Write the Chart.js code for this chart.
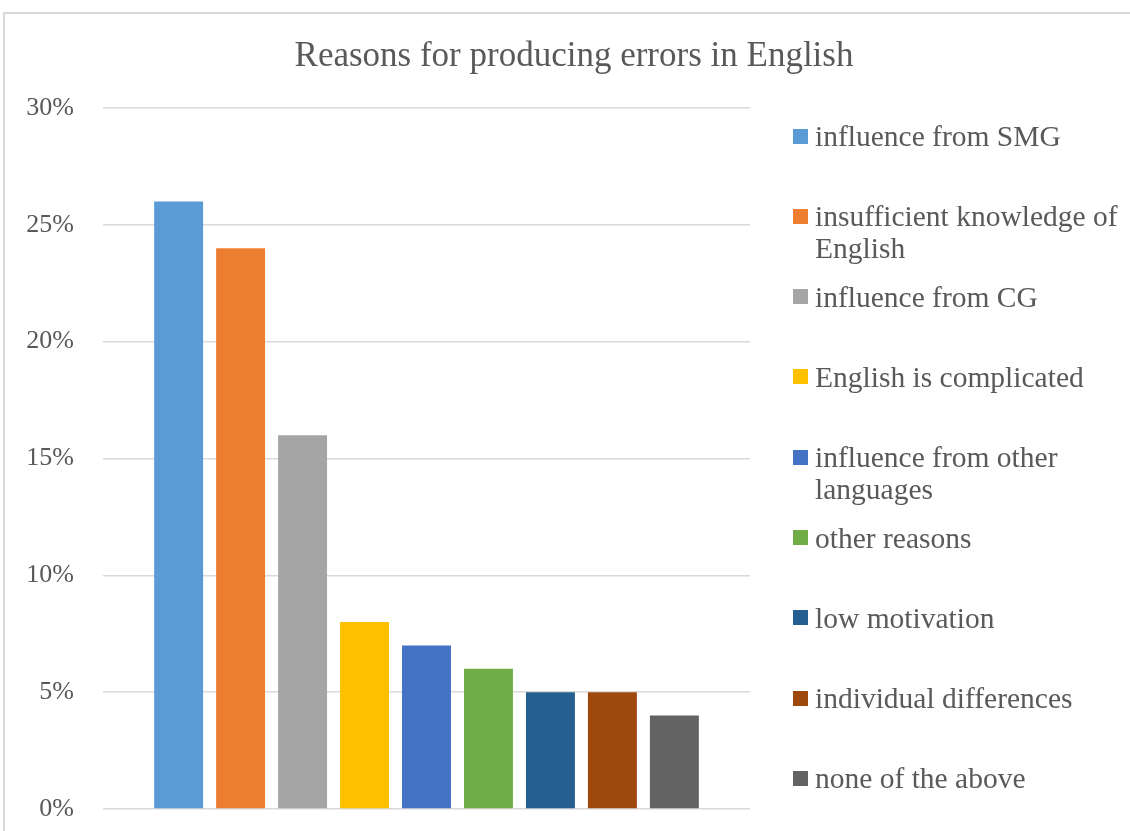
<!DOCTYPE html>
<html>
<head>
<meta charset="utf-8">
<script src="https://cdn.jsdelivr.net/npm/chart.js@4"></script>
<style>
  body { margin: 0; background: #fff; }
  #wrap { position: relative; width: 1130px; height: 831px; overflow: hidden; }
  #frame { position: absolute; left: 3px; top: 12px; width: 1200px; height: 900px;
           border-left: 2px solid #d9d9d9; border-top: 2px solid #d9d9d9; }
  #title { position: absolute; left: 0; top: 34px; width: 1148px; text-align: center;
           font-family: "Liberation Serif", "Times New Roman", serif; font-size: 35px; color: #595959; line-height: 42px; }
  #legend { position: absolute; left: 0; top: 0; font-family: "Liberation Serif", "Times New Roman", serif;
            font-size: 29.5px; color: #595959; }
  .item { position: absolute; left: 793px; width: 335px; }
  .box { position: absolute; left: 0; width: 15px; height: 15px; }
  .txt { position: absolute; left: 22px; width: 312px; line-height: 32px; }
</style>
</head>
<body>
<div id="wrap">
  <div id="frame"></div>
  <canvas id="errChart" width="1130" height="831"></canvas>
  <div id="title">Reasons for producing errors in English</div>
  <div id="legend"></div>
</div>
<script>
// Chart data
const reasons = ['influence from SMG', 'insufficient knowledge of English', 'influence from CG',
  'English is complicated', 'influence from other languages', 'other reasons',
  'low motivation', 'individual differences', 'none of the above'];
const shares = [26, 24, 16, 8, 7, 6, 5, 5, 4];
const colors = ['#5B9BD5', '#ED7D31', '#A5A5A5', '#FFC000', '#4472C4', '#70AD47', '#255E91', '#9E480E', '#636363'];
const yTicks = [0, 5, 10, 15, 20, 25, 30];

const serif = '"Liberation Serif", "Times New Roman", serif';

const datasets = reasons.map((name, i) => ({
  label: name,
  data: [shares[i]],
  backgroundColor: colors[i],
  borderWidth: 0,
  categoryPercentage: 0.862,
  barPercentage: 0.79
}));

new Chart(document.getElementById('errChart').getContext('2d'), {
  type: 'bar',
  data: { labels: [''], datasets: datasets },
  options: {
    responsive: false,
    animation: false,
    layout: { padding: { left: 0, right: 380, bottom: 22, top: 108 } },
    plugins: {
      legend: { display: false },
      tooltip: { enabled: false },
      title: { display: false }
    },
    scales: {
      x: { display: false },
      y: {
        min: yTicks[0],
        max: yTicks[yTicks.length - 1],
        afterBuildTicks: axis => { axis.ticks = yTicks.map(v => ({ value: v })); },
        afterFit: axis => {
          axis.width = 103;
          // the tick padding is only meant horizontally here
          axis.paddingTop = 0;
          axis.paddingBottom = 0;
        },
        ticks: {
          padding: 29,
          color: '#595959',
          font: { family: serif, size: 26 },
          callback: v => v + '%'
        },
        grid: { color: '#d9d9d9', lineWidth: 1.5, drawTicks: false },
        border: { display: false }
      }
    }
  }
});

// HTML legend so the long names can wrap like the original
const legend = document.getElementById('legend');
reasons.forEach((name, i) => {
  const cy = 136 + i * 80.3;
  const item = document.createElement('div');
  item.className = 'item';
  item.style.top = (cy - 16) + 'px';
  item.innerHTML = '<div class="box" style="top:8.5px;background:' + colors[i] + '"></div>' +
    '<div class="txt">' + name + '</div>';
  legend.appendChild(item);
});
</script>
</body>
</html>
